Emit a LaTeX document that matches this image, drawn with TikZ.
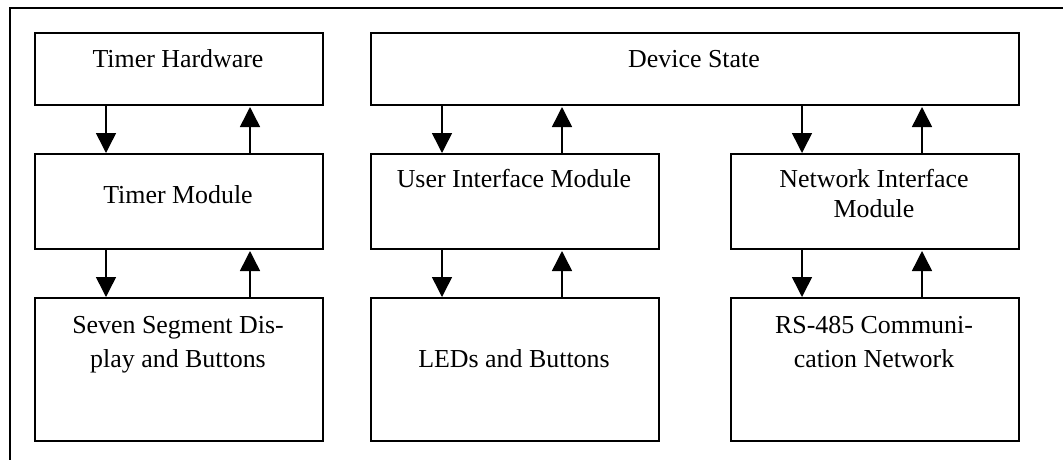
\documentclass[tikz,border=0pt]{standalone}
\usepackage{fontspec}
\setmainfont{Liberation Serif}
\usetikzlibrary{arrows.meta}

\tikzset{
  box/.style={draw=black, line width=1.5pt, rectangle, inner sep=0pt, anchor=north west},
  lbl/.style={anchor=base, inner sep=0pt, font=\fontsize{25.9}{33.6}\selectfont},
  arr/.style={draw=black, line width=1.5pt, -{Triangle[length=20pt,width=20pt]}},
  frame/.style={draw=black, line width=1.5pt}
}

\begin{document}
\begin{tikzpicture}[x=1pt, y=-1pt]
\useasboundingbox (0,0) rectangle (1063,459);
\fill[white] (0,0) rectangle (1063,459);

% enclosing frame (only its top and left sides fall on the page)
\draw[frame] (1070,8) -- (10,8) -- (10,470);

% left column: timer
\node[box, minimum width=288pt, minimum height=72pt]  (th) at (34,32)  {};
\node[box, minimum width=288pt, minimum height=95pt]  (tm) at (34,153) {};
\node[box, minimum width=288pt, minimum height=143pt] (sd) at (34,297) {};

% shared device state
\node[box, minimum width=648pt, minimum height=72pt]  (ds) at (370,32) {};

% middle column: user interface
\node[box, minimum width=288pt, minimum height=95pt]  (ui) at (370,153) {};
\node[box, minimum width=288pt, minimum height=143pt] (led) at (370,297) {};

% right column: network interface
\node[box, minimum width=288pt, minimum height=95pt]  (ni) at (730,153) {};
\node[box, minimum width=288pt, minimum height=143pt] (rs) at (730,297) {};

% labels
\node[lbl] (tthl) at (178,67)  {Timer Hardware};
\node[lbl] (ttml) at (178,203) {Timer Module};
\node[lbl] (tsd1) at (178,333) {Seven Segment Dis-};
\node[lbl] (tsd2) at (178,367) {play and Buttons};
\node[lbl] (tdsl) at (694,67)  {Device State};
\node[lbl] (tuil) at (514,187) {User Interface Module};
\node[lbl] (tled) at (514,367.5) {LEDs and Buttons};
\node[lbl] (tni1) at (874,187) {Network Interface};
\node[lbl] (tni2) at (874,217.5) {Module};
\node[lbl] (trs1) at (874,333) {RS-485 Communi-};
\node[lbl] (trs2) at (874,367) {cation Network};

% connectors: timer column
\draw[arr] (th.south -| 106,0) -- (tm.north -| 106,0);
\draw[arr] (tm.north -| 250,0) -- ([yshift=-1.5pt]th.south -| 250,0);
\draw[arr] (tm.south -| 106,0) -- (sd.north -| 106,0);
\draw[arr] (sd.north -| 250,0) -- ([yshift=-1.5pt]tm.south -| 250,0);

% connectors: user interface column
\draw[arr] (ds.south -| 442,0) -- (ui.north -| 442,0);
\draw[arr] (ui.north -| 562,0) -- ([yshift=-1.5pt]ds.south -| 562,0);
\draw[arr] (ui.south -| 442,0) -- (led.north -| 442,0);
\draw[arr] (led.north -| 562,0) -- ([yshift=-1.5pt]ui.south -| 562,0);

% connectors: network column
\draw[arr] (ds.south -| 802,0) -- (ni.north -| 802,0);
\draw[arr] (ni.north -| 922,0) -- ([yshift=-1.5pt]ds.south -| 922,0);
\draw[arr] (ni.south -| 802,0) -- (rs.north -| 802,0);
\draw[arr] (rs.north -| 922,0) -- ([yshift=-1.5pt]ni.south -| 922,0);
\end{tikzpicture}
\end{document}
